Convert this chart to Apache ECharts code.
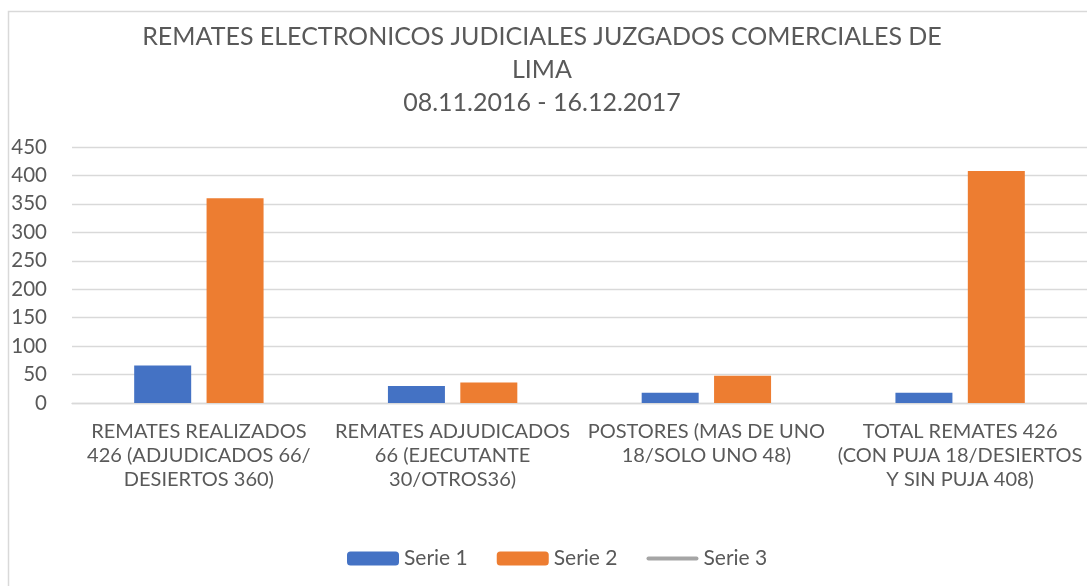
<!DOCTYPE html>
<html>
<head>
<meta charset="utf-8">
<script src="https://cdn.jsdelivr.net/npm/echarts@6/dist/echarts.min.js"></script>
<style>
  html, body { margin: 0; padding: 0; background: #fff; }
  #chart { width: 1087px; height: 586px; }
</style>
</head>
<body>
<div id="chart"></div>
<script>
var titleLines = [
	'REMATES ELECTRONICOS JUDICIALES JUZGADOS COMERCIALES DE',
	'LIMA',
	'08.11.2016 - 16.12.2017'
];
var categories = [
	'REMATES REALIZADOS\n426 (ADJUDICADOS 66/\nDESIERTOS 360)',
	'REMATES ADJUDICADOS\n66 (EJECUTANTE\n30/OTROS36)',
	'POSTORES (MAS DE UNO\n18/SOLO UNO 48)',
	'TOTAL REMATES 426\n(CON PUJA 18/DESIERTOS\nY SIN PUJA 408)'
];
var serie1 = [66, 30, 18, 18];
var serie2 = [360, 36, 48, 408];
var serie3 = [];
var seriesNames = ['Serie 1', 'Serie 2', 'Serie 3'];

var font = 'Lato, "Open Sans", sans-serif';
var textColor = '#595959';
// thin rounded bar, keeps its aspect inside the legend box
var lineIcon = 'path://M2,0 L50,0 A2,2 0 0 1 50,4 L2,4 A2,2 0 0 1 2,0 Z';

var myChart = echarts.init(document.getElementById('chart'));

var options = {
	animation: false,
	color: ['#4472c4', '#ed7d31', '#a5a5a5'],
	graphic: [{
		type: 'rect',
		shape: { x: 8.5, y: 11.5, width: 1200, height: 700 },
		style: { fill: 'none', stroke: '#d9d9d9', lineWidth: 1.5 },
		silent: true
	}],
	title: {
		text: titleLines.join('\n'),
		left: 537,
		top: 15,
		textAlign: 'center',
		textStyle: {
			fontFamily: font,
			fontSize: 25,
			fontWeight: 'normal',
			color: textColor,
			lineHeight: 33
		}
	},
	legend: {
		data: [
			{ name: seriesNames[0] },
			{ name: seriesNames[1] },
			{ name: seriesNames[2], icon: lineIcon, itemStyle: { color: '#a5a5a5', borderWidth: 0 } }
		],
		left: 342,
		top: 543,
		itemWidth: 52,
		itemHeight: 14,
		itemGap: 29,
		textStyle: { fontFamily: font, fontSize: 21, color: textColor }
	},
	grid: {
		left: 72,
		top: 147,
		width: 1022,
		height: 256
	},
	xAxis: [{
		type: 'category',
		data: categories,
		axisLine: { lineStyle: { color: '#d9d9d9', width: 1.3 } },
		axisTick: { show: false },
		axisLabel: {
			interval: 0,
			margin: 17,
			fontFamily: font,
			fontSize: 20,
			lineHeight: 24,
			color: textColor
		}
	}],
	yAxis: [{
		type: 'value',
		min: 0,
		max: 450,
		interval: 50,
		axisLine: { show: false },
		axisTick: { show: false },
		splitLine: { lineStyle: { color: '#d9d9d9', width: 1.3 } },
		axisLabel: {
			margin: 25,
			fontFamily: font,
			fontSize: 20.5,
			color: textColor
		}
	}],
	series: [
		{ name: seriesNames[0], type: 'bar', data: serie1, barWidth: 57, barGap: '27%' },
		{ name: seriesNames[1], type: 'bar', data: serie2, barWidth: 57, barGap: '27%' },
		{
			name: seriesNames[2], type: 'line', data: serie3, symbol: 'none',
			lineStyle: { color: '#a5a5a5', width: 4, cap: 'round' }
		}
	]
};

myChart.setOption(options);
</script>
</body>
</html>
